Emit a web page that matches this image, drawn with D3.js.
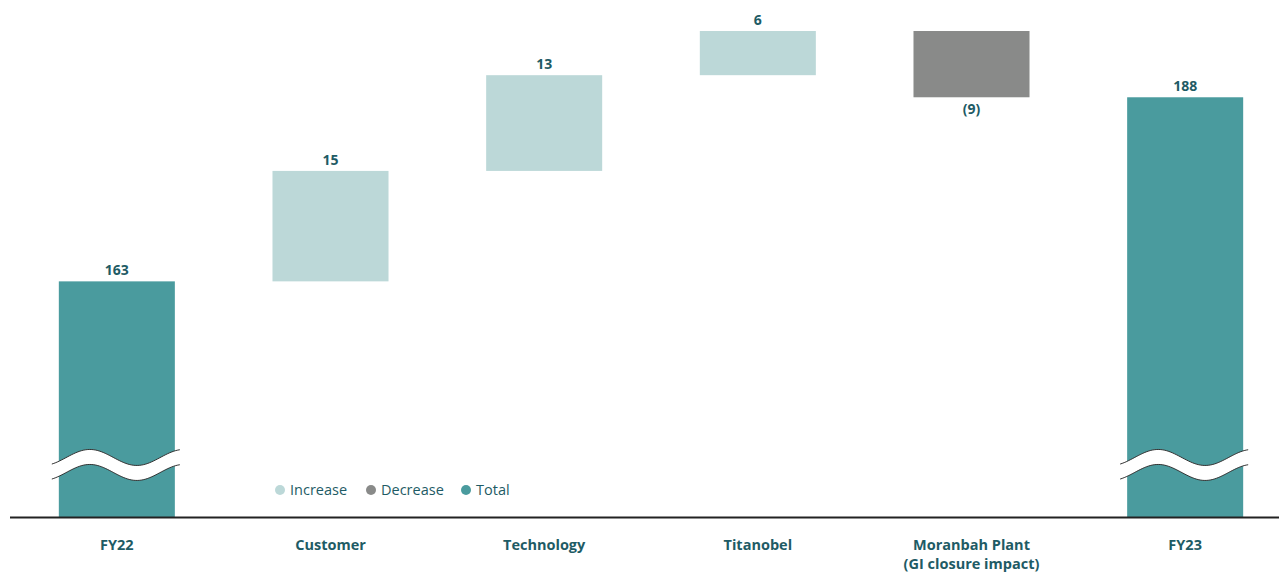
<!DOCTYPE html>
<html>
<head>
<meta charset="utf-8">
<script src="https://cdn.jsdelivr.net/npm/d3@7"></script>
<style>
  body { margin: 0; background: #fff; }
  svg { display: block; font-family: "Open Sans", sans-serif; }
</style>
</head>
<body>
<div id="chart"></div>
<script>
// DATA
const categories = ["FY22", "Customer", "Technology", "Titanobel", "Moranbah Plant", "FY23"];
const subLabels = ["", "", "", "", "(GI closure impact)", ""];
const changes = [163, 15, 13, 6, -9, 188];
const kinds = ["total", "increase", "increase", "increase", "decrease", "total"];
const valueLabels = ["163", "15", "13", "6", "(9)", "188"];
const legendItems = ["Increase", "Decrease", "Total"];
const legendKeys = ["increase", "decrease", "total"];

const W = 1279, H = 574;
const labelColor = "#1e5b65";
const color = d3.scaleOrdinal()
    .domain(["increase", "decrease", "total"])
    .range(["#bcd8d8", "#898a89", "#4a9b9e"]);

// build waterfall steps
let running = 0;
const bars = categories.map((c, i) => {
    let start, end;
    if (kinds[i] === "total") {
        start = null; end = changes[i]; running = changes[i];
    } else {
        start = running; end = running + changes[i]; running = end;
    }
    return { cat: c, sub: subLabels[i], kind: kinds[i], start, end, label: valueLabels[i] };
});

const svg = d3.select("#chart").append("svg")
    .attr("width", W)
    .attr("height", H);

// scales (axis is broken: baseline does not sit at zero)
const x = d3.scaleBand()
    .domain(categories)
    .range([10, 1292])
    .paddingInner(0.457)
    .paddingOuter(0.2285);

const y = d3.scaleLinear()
    .domain([131, 197])
    .range([517, 31]);

const baseY = y.range()[0];

// bars
svg.selectAll(".bar")
    .data(bars)
    .enter()
    .append("rect")
    .attr("class", "bar")
    .attr("x", d => x(d.cat))
    .attr("width", x.bandwidth())
    .attr("y", d => d.start === null ? y(d.end) : y(Math.max(d.start, d.end)))
    .attr("height", d => d.start === null
        ? baseY - y(d.end)
        : Math.abs(y(d.start) - y(d.end)))
    .attr("fill", d => color(d.kind));

// break marks on the total bars
const breakVal = 138;
function wave(cx, cy) {
    const pts = [];
    for (let k = -65; k <= 63; k += 2) {
        pts.push([cx + k, cy - 8 * Math.cos(2 * Math.PI * (k + 27) / 94)]);
    }
    return pts;
}
bars.filter(d => d.kind === "total").forEach(d => {
    const cx = x(d.cat) + x.bandwidth() / 2;
    const top = wave(cx, y(breakVal) - 8);
    const bot = wave(cx, y(breakVal) + 7);
    const g = svg.append("g");
    g.append("path")
        .attr("d", d3.line()(top.concat(bot.slice().reverse())) + "Z")
        .attr("fill", "#fff");
    [top, bot].forEach(p => {
        g.append("path")
            .attr("d", d3.line()(p))
            .attr("fill", "none")
            .attr("stroke", "#333")
            .attr("stroke-width", 1);
    });
});

// value labels
svg.selectAll(".val")
    .data(bars)
    .enter()
    .append("text")
    .attr("class", "val")
    .attr("x", d => x(d.cat) + x.bandwidth() / 2)
    .attr("y", d => d.kind === "decrease" ? y(d.end) + 17 : y(d.end) - 6)
    .attr("text-anchor", "middle")
    .attr("fill", labelColor)
    .style("font-size", "14px")
    .style("font-weight", 700)
    .text(d => d.label);

// baseline axis
svg.append("line")
    .attr("x1", 10)
    .attr("x2", W)
    .attr("y1", baseY + 0.5)
    .attr("y2", baseY + 0.5)
    .attr("stroke", "#222")
    .attr("stroke-width", 2);

// category labels
const cats = svg.selectAll(".cat")
    .data(bars)
    .enter()
    .append("text")
    .attr("class", "cat")
    .attr("x", d => x(d.cat) + x.bandwidth() / 2)
    .attr("y", baseY + 33)
    .attr("text-anchor", "middle")
    .attr("fill", labelColor)
    .style("font-size", "14.5px")
    .style("font-weight", 700);

cats.append("tspan").text(d => d.cat);
cats.filter(d => d.sub)
    .append("tspan")
    .attr("x", d => x(d.cat) + x.bandwidth() / 2)
    .attr("dy", 19)
    .text(d => d.sub);

// legend
const legend = svg.append("g").attr("transform", "translate(280, 490)");
const offsets = [0, 91, 186];
const item = legend.selectAll(".legend")
    .data(legendItems)
    .enter()
    .append("g")
    .attr("class", "legend")
    .attr("transform", (d, i) => `translate(${offsets[i]}, 0)`);

item.append("circle")
    .attr("r", 5)
    .attr("fill", (d, i) => color(legendKeys[i]));

item.append("text")
    .attr("x", 10)
    .attr("dy", "0.35em")
    .attr("fill", labelColor)
    .style("font-size", "14.5px")
    .text(d => d);
</script>
</body>
</html>
